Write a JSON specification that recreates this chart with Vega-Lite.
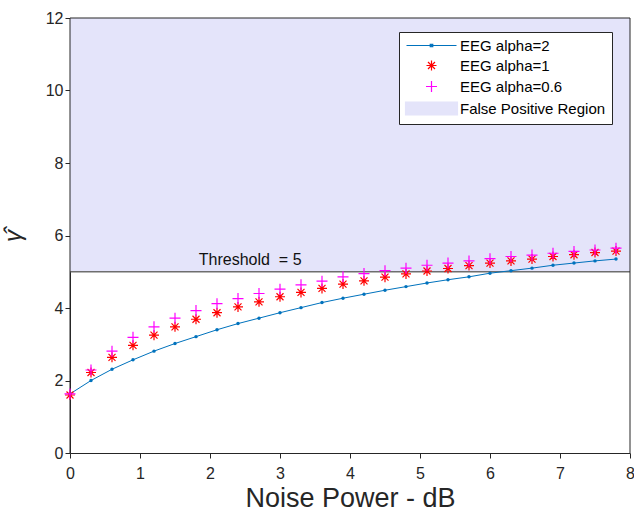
{
  "$schema": "https://vega.github.io/schema/vega-lite/v6.json",
  "width": 560,
  "height": 435,
  "autosize": {"type": "none"},
  "padding": {"left": 70, "top": 18, "right": 4, "bottom": 62},
  "background": "white",
  "config": {
    "font": "Liberation Sans",
    "view": {"stroke": null},
    "axis": {
      "grid": false,
      "labelColor": "#262626",
      "titleColor": "#262626",
      "labelFont": "Liberation Sans",
      "titleFont": "Liberation Sans",
      "labelFontSize": 16,
      "titleFontWeight": "normal",
      "domainColor": "#262626",
      "tickColor": "#262626"
    }
  },
  "datasets": {
    "region": [{"series": "False Positive Region", "x0": 0, "x1": 8, "y0": 5, "y1": 12, "ylo": 0}],
    "note": [{"x": 1.84, "y": 5.1, "label": "Threshold\u00a0 = 5"}],
    "pts": [
      {"series": "EEG alpha=2", "x": 0, "y": 1.63},
      {"series": "EEG alpha=2", "x": 0.3, "y": 2.0},
      {"series": "EEG alpha=2", "x": 0.6, "y": 2.31},
      {"series": "EEG alpha=2", "x": 0.9, "y": 2.57},
      {"series": "EEG alpha=2", "x": 1.2, "y": 2.81},
      {"series": "EEG alpha=2", "x": 1.5, "y": 3.02},
      {"series": "EEG alpha=2", "x": 1.8, "y": 3.21},
      {"series": "EEG alpha=2", "x": 2.1, "y": 3.4},
      {"series": "EEG alpha=2", "x": 2.4, "y": 3.57},
      {"series": "EEG alpha=2", "x": 2.7, "y": 3.72},
      {"series": "EEG alpha=2", "x": 3.0, "y": 3.87},
      {"series": "EEG alpha=2", "x": 3.3, "y": 4.01},
      {"series": "EEG alpha=2", "x": 3.6, "y": 4.15},
      {"series": "EEG alpha=2", "x": 3.9, "y": 4.27},
      {"series": "EEG alpha=2", "x": 4.2, "y": 4.38},
      {"series": "EEG alpha=2", "x": 4.5, "y": 4.49},
      {"series": "EEG alpha=2", "x": 4.8, "y": 4.59},
      {"series": "EEG alpha=2", "x": 5.1, "y": 4.69},
      {"series": "EEG alpha=2", "x": 5.4, "y": 4.78},
      {"series": "EEG alpha=2", "x": 5.7, "y": 4.86},
      {"series": "EEG alpha=2", "x": 6.0, "y": 4.96},
      {"series": "EEG alpha=2", "x": 6.3, "y": 5.03},
      {"series": "EEG alpha=2", "x": 6.6, "y": 5.1},
      {"series": "EEG alpha=2", "x": 6.9, "y": 5.18},
      {"series": "EEG alpha=2", "x": 7.2, "y": 5.24},
      {"series": "EEG alpha=2", "x": 7.5, "y": 5.3},
      {"series": "EEG alpha=2", "x": 7.8, "y": 5.35},
      {"series": "EEG alpha=1", "x": 0, "y": 1.6},
      {"series": "EEG alpha=1", "x": 0.3, "y": 2.22},
      {"series": "EEG alpha=1", "x": 0.6, "y": 2.64},
      {"series": "EEG alpha=1", "x": 0.9, "y": 2.97},
      {"series": "EEG alpha=1", "x": 1.2, "y": 3.25},
      {"series": "EEG alpha=1", "x": 1.5, "y": 3.48},
      {"series": "EEG alpha=1", "x": 1.8, "y": 3.69},
      {"series": "EEG alpha=1", "x": 2.1, "y": 3.87},
      {"series": "EEG alpha=1", "x": 2.4, "y": 4.03},
      {"series": "EEG alpha=1", "x": 2.7, "y": 4.17},
      {"series": "EEG alpha=1", "x": 3.0, "y": 4.31},
      {"series": "EEG alpha=1", "x": 3.3, "y": 4.43},
      {"series": "EEG alpha=1", "x": 3.6, "y": 4.54},
      {"series": "EEG alpha=1", "x": 3.9, "y": 4.66},
      {"series": "EEG alpha=1", "x": 4.2, "y": 4.75},
      {"series": "EEG alpha=1", "x": 4.5, "y": 4.85},
      {"series": "EEG alpha=1", "x": 4.8, "y": 4.94},
      {"series": "EEG alpha=1", "x": 5.1, "y": 5.02},
      {"series": "EEG alpha=1", "x": 5.4, "y": 5.09},
      {"series": "EEG alpha=1", "x": 5.7, "y": 5.17},
      {"series": "EEG alpha=1", "x": 6.0, "y": 5.24},
      {"series": "EEG alpha=1", "x": 6.3, "y": 5.3},
      {"series": "EEG alpha=1", "x": 6.6, "y": 5.35},
      {"series": "EEG alpha=1", "x": 6.9, "y": 5.42},
      {"series": "EEG alpha=1", "x": 7.2, "y": 5.47},
      {"series": "EEG alpha=1", "x": 7.5, "y": 5.53},
      {"series": "EEG alpha=1", "x": 7.8, "y": 5.57},
      {"series": "EEG alpha=0.6", "x": 0, "y": 1.63},
      {"series": "EEG alpha=0.6", "x": 0.3, "y": 2.29},
      {"series": "EEG alpha=0.6", "x": 0.6, "y": 2.81},
      {"series": "EEG alpha=0.6", "x": 0.9, "y": 3.19},
      {"series": "EEG alpha=0.6", "x": 1.2, "y": 3.48},
      {"series": "EEG alpha=0.6", "x": 1.5, "y": 3.72},
      {"series": "EEG alpha=0.6", "x": 1.8, "y": 3.93},
      {"series": "EEG alpha=0.6", "x": 2.1, "y": 4.12},
      {"series": "EEG alpha=0.6", "x": 2.4, "y": 4.26},
      {"series": "EEG alpha=0.6", "x": 2.7, "y": 4.4},
      {"series": "EEG alpha=0.6", "x": 3.0, "y": 4.52},
      {"series": "EEG alpha=0.6", "x": 3.3, "y": 4.64},
      {"series": "EEG alpha=0.6", "x": 3.6, "y": 4.74},
      {"series": "EEG alpha=0.6", "x": 3.9, "y": 4.86},
      {"series": "EEG alpha=0.6", "x": 4.2, "y": 4.95},
      {"series": "EEG alpha=0.6", "x": 4.5, "y": 5.03},
      {"series": "EEG alpha=0.6", "x": 4.8, "y": 5.1},
      {"series": "EEG alpha=0.6", "x": 5.1, "y": 5.18},
      {"series": "EEG alpha=0.6", "x": 5.4, "y": 5.24},
      {"series": "EEG alpha=0.6", "x": 5.7, "y": 5.3},
      {"series": "EEG alpha=0.6", "x": 6.0, "y": 5.36},
      {"series": "EEG alpha=0.6", "x": 6.3, "y": 5.42},
      {"series": "EEG alpha=0.6", "x": 6.6, "y": 5.46},
      {"series": "EEG alpha=0.6", "x": 6.9, "y": 5.51},
      {"series": "EEG alpha=0.6", "x": 7.2, "y": 5.56},
      {"series": "EEG alpha=0.6", "x": 7.5, "y": 5.6},
      {"series": "EEG alpha=0.6", "x": 7.8, "y": 5.65}
    ]
  },
  "layer": [
    {
      "data": {"name": "region"},
      "mark": {"type": "rect", "opacity": 1},
      "encoding": {
        "x": {
          "field": "x0", "type": "quantitative",
          "scale": {"domain": [0, 8], "nice": false, "zero": false},
          "axis": {
            "orient": "bottom", "tickCount": 8, "tickSize": 5,
            "labelPadding": 7, "labelFlush": false,
            "title": "Noise Power - dB", "titleFontSize": 27, "titlePadding": 4
          }
        },
        "x2": {"field": "x1"},
        "y": {
          "field": "y0", "type": "quantitative",
          "scale": {"domain": [0, 12], "nice": false, "zero": false},
          "axis": {
            "orient": "left", "tickCount": 6, "tickSize": 5,
            "labelPadding": 2, "labelFlush": false,
            "title": "γ̂", "titleFontSize": 24, "titleFontStyle": "italic", "titlePadding": 20
          }
        },
        "y2": {"field": "y1"},
        "color": {
          "field": "series", "type": "nominal",
          "scale": {
            "domain": ["EEG alpha=2", "EEG alpha=1", "EEG alpha=0.6", "False Positive Region"],
            "range": ["#0072BD", "#FF0000", "#FF00FF", "#E4E4FA"]
          },
          "legend": {
            "title": null, "orient": "none", "legendX": 329, "legendY": 14,
            "padding": 6, "fillColor": "white", "strokeColor": "#262626",
            "labelFont": "Liberation Sans", "labelFontSize": 15, "labelColor": "black",
            "labelOffset": 21, "symbolOffset": 19, "rowPadding": 4, "symbolSize": 100,
            "symbolStrokeWidth": 1.2, "labelLimit": 300
          }
        }
      }
    },
    {
      "data": {"name": "region"},
      "mark": {"type": "rule", "color": "#6E6E6E", "strokeWidth": 1.5},
      "encoding": {
        "x": {"field": "x0", "type": "quantitative"},
        "x2": {"field": "x1"},
        "y": {"field": "y0", "type": "quantitative"}
      }
    },
    {
      "data": {"name": "region"},
      "mark": {"type": "rule", "color": "#262626", "strokeWidth": 1},
      "encoding": {
        "x": {"field": "x0", "type": "quantitative"},
        "x2": {"field": "x1"},
        "y": {"field": "y1", "type": "quantitative"}
      }
    },
    {
      "data": {"name": "region"},
      "mark": {"type": "rule", "color": "#262626", "strokeWidth": 1},
      "encoding": {
        "x": {"field": "x0", "type": "quantitative"},
        "y": {"field": "ylo", "type": "quantitative"},
        "y2": {"field": "y1"}
      }
    },
    {
      "data": {"name": "region"},
      "mark": {"type": "rule", "color": "#262626", "strokeWidth": 1},
      "encoding": {
        "x": {"field": "x1", "type": "quantitative"},
        "y": {"field": "ylo", "type": "quantitative"},
        "y2": {"field": "y1"}
      }
    },
    {
      "data": {"name": "pts"},
      "transform": [{"filter": "datum.series === 'EEG alpha=2'"}],
      "mark": {"type": "line", "strokeWidth": 1},
      "encoding": {
        "x": {"field": "x", "type": "quantitative"},
        "y": {"field": "y", "type": "quantitative"},
        "color": {"field": "series", "type": "nominal"}
      }
    },
    {
      "data": {"name": "pts"},
      "transform": [{"filter": "datum.series === 'EEG alpha=2'"}],
      "mark": {"type": "point", "filled": true, "shape": "circle", "size": 12, "opacity": 1},
      "encoding": {
        "x": {"field": "x", "type": "quantitative"},
        "y": {"field": "y", "type": "quantitative"},
        "color": {"field": "series", "type": "nominal"}
      }
    },
    {
      "data": {"name": "pts"},
      "transform": [{"filter": "datum.series !== 'EEG alpha=2'"}],
      "mark": {"type": "point", "filled": false, "size": 100, "strokeWidth": 1.2, "opacity": 1},
      "encoding": {
        "x": {"field": "x", "type": "quantitative"},
        "y": {"field": "y", "type": "quantitative"},
        "color": {"field": "series", "type": "nominal"},
        "shape": {
          "field": "series", "type": "nominal",
          "scale": {
            "domain": ["EEG alpha=2", "EEG alpha=1", "EEG alpha=0.6", "False Positive Region"],
            "range": [
              "M-5,0L5,0M-0.25,-0.25L0.25,-0.25L0.25,0.25L-0.25,0.25Z",
              "M-1,0L1,0M0,-1L0,1M-0.7,-0.7L0.7,0.7M-0.7,0.7L0.7,-0.7",
              "M-1.1,0L1.1,0M0,-1.1L0,1.1",
              "M-5.2,-1.3L5.2,-1.3L5.2,1.3L-5.2,1.3Z"
            ]
          }
        }
      }
    },
    {
      "data": {"name": "note"},
      "mark": {"type": "text", "align": "left", "baseline": "bottom", "fontSize": 16, "font": "Liberation Sans", "color": "#111111"},
      "encoding": {
        "x": {"field": "x", "type": "quantitative"},
        "y": {"field": "y", "type": "quantitative"},
        "text": {"field": "label"}
      }
    }
  ]
}
